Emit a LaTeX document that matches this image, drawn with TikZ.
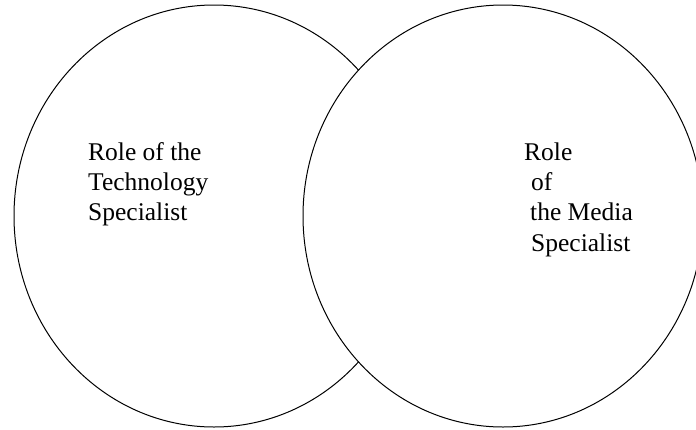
\documentclass[tikz,border=0pt]{standalone}
\usepackage{fontspec}
\setmainfont{Liberation Serif}
\begin{document}
\begin{tikzpicture}[x=1pt,y=-1pt,
  venn/.style={draw=black,line width=1pt,fill=white},
  lbl/.style={anchor=base west,inner sep=0pt,font=\fontsize{25.5}{30}\selectfont}]
\useasboundingbox (0,0) rectangle (696,429);
\draw[venn] (214,216) ellipse [x radius=200, y radius=211];
\draw[venn] (503,216) ellipse [x radius=200, y radius=211];
\node[lbl] (l1) at (88,160) {Role of the};
\node[lbl] (l2) at (88,190) {Technology};
\node[lbl] (l3) at (88,220) {Specialist};
\node[lbl] (r1) at (524,160) {Role};
\node[lbl] (r2) at (531,190) {of};
\node[lbl] (r3) at (530,220) {the Media};
\node[lbl] (r4) at (531,251) {Specialist};
\end{tikzpicture}
\end{document}
